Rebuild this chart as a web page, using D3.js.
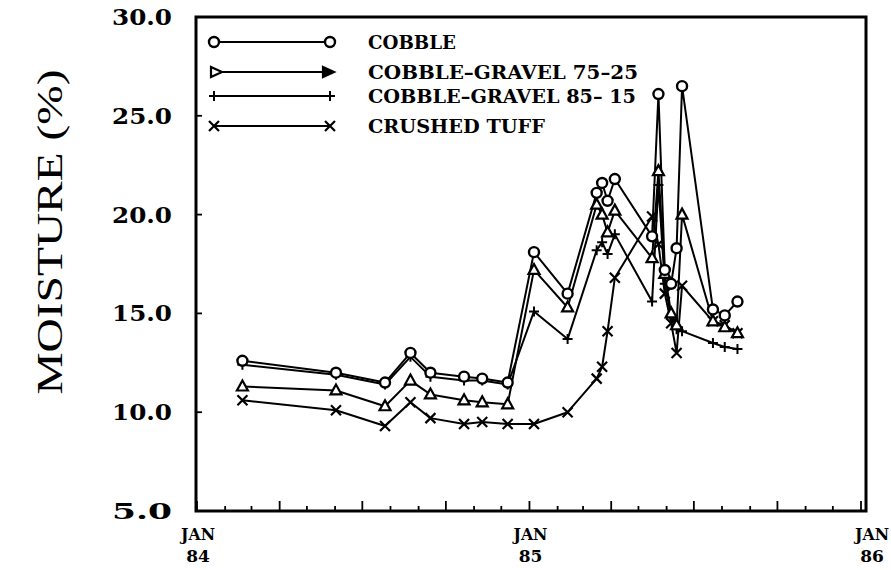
<!DOCTYPE html>
<html>
<head>
<meta charset="utf-8">
<script src="https://cdn.jsdelivr.net/npm/d3@7"></script>
<style>
  html, body { margin: 0; padding: 0; background: #fff; }
  svg { display: block; }
</style>
</head>
<body>
<svg id="chart" width="891" height="570"></svg>
<script>
// Sampling dates (shared by all four test plots)
const sampleDates = [
  "1984-02-20","1984-06-02","1984-07-26","1984-08-23","1984-09-14","1984-10-21",
  "1984-11-10","1984-12-08","1985-01-06","1985-02-12","1985-03-16","1985-03-22",
  "1985-03-28","1985-04-05","1985-05-16","1985-05-23","1985-05-30","1985-06-06",
  "1985-06-12","1985-06-18","1985-07-22","1985-08-04","1985-08-18"
];

// Moisture content (%) per material
const cobble      = [12.6,12.0,11.5,13.0,12.0,11.8,11.7,11.5,18.1,16.0,21.1,21.6,20.7,21.8,18.9,26.1,17.2,16.5,18.3,26.5,15.2,14.9,15.6];
const gravel7525  = [11.3,11.1,10.3,11.6,10.9,10.6,10.5,10.4,17.2,15.3,20.5,20.0,19.1,20.2,17.8,22.2,17.0,15.0,14.4,20.0,14.6,14.3,14.0];
const gravel8515  = [12.4,11.9,11.4,12.8,11.8,11.6,11.6,11.4,15.1,13.7,18.2,18.6,18.0,19.0,15.6,21.5,16.5,14.8,14.2,14.1,13.5,13.3,13.2];
const crushedTuff = [10.6,10.1,9.3,10.5,9.7,9.4,9.5,9.4,9.4,10.0,11.7,12.3,14.1,16.8,19.9,18.5,16.0,14.5,13.0,16.4,14.6,14.4,14.0];

const seriesNames = ["COBBLE", "COBBLE\u2013GRAVEL 75\u201325", "COBBLE\u2013GRAVEL 85\u2013 15", "CRUSHED TUFF"];
const seriesMarkers = ["circle", "triangle", "plus", "cross"];

const yTicks = [5, 10, 15, 20, 25, 30];
const xLabelYears = ["84", "85", "86"];

const parse = d3.timeParse("%Y-%m-%d");
const dates = sampleDates.map(parse);
const seriesValues = [cobble, gravel7525, gravel8515, crushedTuff];

const svg = d3.select("#chart");
const frame = { left: 196, right: 866, top: 17, bottom: 511 };

const x = d3.scaleTime()
  .domain([new Date(1984, 0, 1), new Date(1986, 0, 1)])
  .range([197, 861]);
const y = d3.scaleLinear().domain([5, 30]).range([frame.bottom, frame.top]);

const serif = "'DejaVu Serif', 'Liberation Serif', serif";

// Plot frame
svg.append("rect")
  .attr("x", frame.left).attr("y", frame.top)
  .attr("width", frame.right - frame.left).attr("height", frame.bottom - frame.top)
  .attr("fill", "none").attr("stroke", "#000").attr("stroke-width", 3);

// Monthly ticks along the bottom, longer at quarters
const months = d3.timeMonth.range(new Date(1984, 0, 1), new Date(1986, 0, 2));
svg.append("g").selectAll("line").data(months).join("line")
  .attr("x1", d => x(d)).attr("x2", d => x(d))
  .attr("y1", frame.bottom)
  .attr("y2", d => frame.bottom - (d.getMonth() % 3 === 0 ? 10 : 5))
  .attr("stroke", "#000").attr("stroke-width", 1.8);

// Y ticks and labels
svg.append("g").selectAll("line").data(yTicks).join("line")
  .attr("x1", frame.left).attr("x2", frame.left + 6)
  .attr("y1", d => y(d)).attr("y2", d => y(d))
  .attr("stroke", "#000").attr("stroke-width", 1.8);

svg.append("g").selectAll("text").data(yTicks).join("text")
  .attr("x", 172).attr("y", d => y(d) + 8)
  .attr("text-anchor", "end")
  .attr("font-family", serif).attr("font-weight", "bold").attr("font-size", 22)
  .attr("textLength", 60).attr("lengthAdjust", "spacingAndGlyphs")
  .text(d => d.toFixed(1));

// X labels
const yearStarts = xLabelYears.map(yy => new Date(1900 + (+yy), 0, 1));
const xl = svg.append("g").selectAll("g").data(yearStarts).join("g")
  .attr("transform", (d, i) => `translate(${x(d) + (i === 2 ? 11 : 1)},0)`);
xl.append("text").attr("y", 540).attr("text-anchor", "middle")
  .attr("font-family", serif).attr("font-weight", "bold").attr("font-size", 17)
  .attr("textLength", 34).attr("lengthAdjust", "spacingAndGlyphs")
  .text("JAN");
xl.append("text").attr("y", 562).attr("text-anchor", "middle")
  .attr("font-family", serif).attr("font-weight", "bold").attr("font-size", 17)
  .text((d, i) => xLabelYears[i]);

// Y axis title
svg.append("text")
  .attr("transform", "translate(62,232) rotate(-90)")
  .attr("text-anchor", "middle")
  .attr("font-family", "'Liberation Serif', serif").attr("font-size", 36)
  .attr("textLength", 325).attr("lengthAdjust", "spacingAndGlyphs")
  .text("MOISTURE (%)");

// Marker drawing
function drawMarker(g, type, cx, cy, opts = {}) {
  const s = "#000";
  if (type === "circle") {
    g.append("circle").attr("cx", cx).attr("cy", cy).attr("r", 5)
      .attr("fill", "#fff").attr("stroke", s).attr("stroke-width", 2.4);
  } else if (type === "triangle") {
    const pts = opts.right
      ? [[cx - 5, cy - 5], [cx + 6, cy], [cx - 5, cy + 5]]
      : [[cx, cy - 6], [cx + 5.5, cy + 4], [cx - 5.5, cy + 4]];
    g.append("polygon").attr("points", pts.map(p => p.join(",")).join(" "))
      .attr("fill", opts.filled ? "#000" : "#fff").attr("stroke", s).attr("stroke-width", 2.2);
  } else if (type === "plus") {
    g.append("path").attr("d", `M${cx - 5},${cy}H${cx + 5}M${cx},${cy - 5}V${cy + 5}`)
      .attr("stroke", s).attr("stroke-width", 2);
  } else if (type === "cross") {
    g.append("path").attr("d", `M${cx - 5},${cy - 5}L${cx + 5},${cy + 5}M${cx + 5},${cy - 5}L${cx - 5},${cy + 5}`)
      .attr("stroke", s).attr("stroke-width", 2.2);
  }
}

const line = d3.line().x(d => x(d.date)).y(d => y(d.value));

// Series lines (drawn first), then markers on top
const plotData = seriesValues.map(vals => vals.map((v, i) => ({ date: dates[i], value: v })));
const lines = svg.append("g");
plotData.forEach(pts => {
  lines.append("path").datum(pts).attr("d", line)
    .attr("fill", "none").attr("stroke", "#000").attr("stroke-width", 2)
    .attr("stroke-linejoin", "round");
});
const marks = svg.append("g");
[3, 2, 1, 0].forEach(si => {
  plotData[si].forEach(p => drawMarker(marks, seriesMarkers[si], x(p.date), y(p.value)));
});

// Legend
const legendRows = [42, 72, 96, 126];
const leg = svg.append("g");
seriesNames.forEach((name, i) => {
  const ly = legendRows[i];
  leg.append("line").attr("x1", 214).attr("x2", 330).attr("y1", ly).attr("y2", ly)
    .attr("stroke", "#000").attr("stroke-width", 2);
  if (seriesMarkers[i] === "triangle") {
    drawMarker(leg, "triangle", 216, ly, { right: true });
    drawMarker(leg, "triangle", 328, ly, { right: true, filled: true });
  } else {
    drawMarker(leg, seriesMarkers[i], 214, ly);
    drawMarker(leg, seriesMarkers[i], 330, ly);
  }
  const widths = [88, 270, 268, 177];
  leg.append("text").attr("x", 368).attr("y", ly + 7)
    .attr("font-family", serif).attr("font-weight", "bold").attr("font-size", 19)
    .attr("textLength", widths[i]).attr("lengthAdjust", "spacingAndGlyphs")
    .text(name);
});
</script>
</body>
</html>
